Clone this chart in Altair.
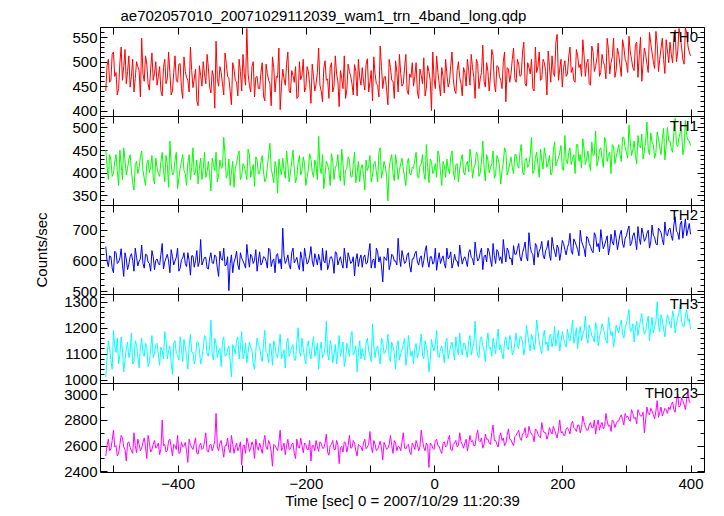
import altair as alt
import pandas as pd

# samples at t = -512 + 4k
T0_A = -512
# samples at t = -510 + 4k
T0_B = -510
DT = 4

th0_a = [
    440, 505, 462, 520, 478, 445, 530, 490, 455, 512, 470, 438, 500, 482, 548, 460, 495, 442, 518, 476,
    452, 490, 430, 505, 465, 478, 440, 512, 458, 496, 425, 480, 462, 530, 447, 485, 410, 472, 500, 455,
    488, 436, 470, 542, 450, 478, 432, 495, 466, 412, 485, 458, 505, 440, 476, 568, 452, 490, 428, 470,
    445, 498, 420, 476, 455, 510, 438, 468, 402, 485, 452, 520, 436, 472, 490, 428, 463, 505, 447, 480,
    415, 470, 455, 528, 440, 486, 462, 425, 498, 450, 475, 408, 466, 512, 443, 480, 455, 494, 430, 468,
    488, 442, 506, 458, 420, 475, 452, 532, 445, 470, 412, 488, 460, 502, 438, 476, 455, 515, 433, 468,
    450, 498, 425, 472, 508, 446, 480, 400, 466, 512, 455, 488, 436, 475, 458, 520, 442, 482, 468, 430,
    478, 505, 452, 488, 425, 496, 465, 534, 448, 480, 470, 512, 438, 490, 462, 500, 418, 485, 475, 528,
    458, 495, 472, 540, 450, 488, 505, 440, 478, 520, 465, 498, 432, 490, 512, 470, 556, 485, 448, 502,
    475, 530, 488, 458, 512, 495, 545, 470, 505, 452, 520, 490, 538, 478, 500, 465, 525, 498, 548, 482,
    515, 470, 530, 498, 552, 505, 482, 540, 512, 460, 528, 495, 560, 518, 486, 535, 505, 548, 476, 522,
    540, 498, 565, 520, 552, 505, 570, 532, 512,
]
th0_b = [
    492, 458, 515, 470, 432, 498, 462, 525, 480, 448, 505, 466, 490, 428, 475, 512, 455, 485, 462, 500,
    470, 440, 488, 455, 520, 432, 478, 462, 495, 445, 510, 468, 438, 482, 465, 420, 492, 450, 475, 515,
    448, 482, 405, 465, 490, 455, 518, 470, 440, 498, 462, 430, 480, 515, 452, 475, 438, 500, 468, 445,
    478, 430, 495, 462, 410, 488, 470, 528, 450, 465, 495, 440, 482, 458, 425, 500, 472, 438, 490, 455,
    495, 440, 478, 452, 418, 502, 465, 488, 438, 512, 460, 482, 445, 425, 495, 470, 432, 480, 505, 452,
    460, 495, 438, 482, 510, 455, 428, 490, 468, 442, 505, 462, 425, 478, 515, 450, 488, 440, 475, 498,
    470, 438, 485, 455, 430, 492, 462, 520, 445, 478, 430, 470, 505, 448, 492, 465, 435, 500, 455, 488,
    450, 482, 515, 468, 505, 445, 478, 460, 498, 440, 525, 455, 492, 470, 445, 520, 488, 458, 505, 465,
    505, 470, 520, 455, 498, 475, 445, 530, 490, 462, 505, 480, 522, 458, 478, 540, 462, 505, 488, 470,
    510, 478, 462, 525, 488, 470, 512, 498, 455, 532, 480, 508, 470, 515, 492, 548, 475, 510, 468, 528,
    492, 545, 505, 478, 520, 488, 535, 468, 550, 495, 515, 478, 538, 500, 562, 480, 528, 505, 545, 498,
    515, 548, 500, 568, 530, 495, 558, 520,
]

th1_a = [
    450, 385, 428, 398, 440, 372, 418, 455, 395, 430, 405, 362, 425, 410, 448, 388, 420, 400, 438, 375,
    412, 392, 445, 380, 418, 470, 395, 428, 365, 410, 440, 398, 422, 385, 455, 402, 375, 432, 408, 390,
    425, 360, 418, 445, 395, 410, 478, 388, 430, 402, 368, 420, 448, 392, 415, 385, 440, 405, 370, 428,
    398, 438, 380, 412, 465, 395, 425, 355, 410, 432, 388, 418, 400, 450, 378, 422, 395, 435, 372, 408,
    430, 390, 415, 480, 398, 365, 425, 405, 442, 385, 418, 395, 452, 372, 410, 428, 390, 445, 400, 380,
    418, 362, 405, 438, 395, 425, 380, 455, 402, 415, 338, 428, 398, 440, 385, 420, 408, 372, 432, 395,
    410, 445, 388, 420, 400, 462, 378, 425, 405, 390, 438, 372, 415, 430, 398, 448, 385, 420, 408, 440,
    395, 425, 452, 388, 418, 440, 400, 470, 382, 428, 412, 448, 395, 430, 375, 422, 445, 405, 435, 398,
    440, 410, 462, 395, 432, 418, 478, 405, 445, 390, 428, 455, 412, 438, 400, 468, 425, 445, 408, 482,
    420, 455, 432, 398, 462, 440, 475, 418, 448, 405, 438, 492, 428, 455, 412, 468, 440, 398, 458, 435,
    462, 425, 478, 445, 505, 438, 470, 420, 458, 485, 448, 512, 440, 468, 432, 490, 455, 475, 428, 500,
    470, 445, 520, 458, 488, 440, 515, 472, 460,
]
th1_b = [
    415, 440, 392, 425, 405, 450, 385, 428, 410, 440, 378, 418, 398, 435, 405, 372, 428, 412, 390, 432,
    398, 425, 405, 438, 368, 420, 400, 445, 388, 425, 405, 372, 440, 412, 395, 428, 410, 385, 445, 402,
    395, 432, 405, 380, 428, 412, 440, 398, 372, 425, 410, 438, 385, 420, 402, 452, 390, 418, 435, 398,
    425, 402, 388, 440, 410, 378, 412, 430, 395, 405, 448, 380, 425, 410, 392, 438, 405, 420, 390, 442,
    402, 428, 385, 412, 440, 395, 418, 372, 425, 410, 440, 382, 420, 405, 435, 392, 418, 378, 425, 410,
    395, 428, 415, 380, 420, 402, 445, 388, 425, 392, 410, 440, 382, 418, 405, 432, 390, 420, 398, 412,
    428, 392, 415, 440, 385, 412, 430, 398, 420, 448, 402, 425, 390, 410, 435, 405, 418, 380, 428, 402,
    418, 402, 432, 410, 445, 392, 425, 412, 440, 400, 420, 388, 438, 415, 405, 455, 395, 420, 412, 440,
    418, 445, 402, 428, 412, 440, 398, 432, 418, 452, 408, 438, 422, 395, 448, 415, 432, 460, 405, 428,
    445, 418, 440, 462, 425, 410, 452, 432, 420, 468, 440, 415, 450, 432, 478, 425, 445, 462, 420, 448,
    440, 478, 455, 432, 468, 450, 438, 482, 455, 430, 470, 452, 488, 462, 445, 475, 440, 498, 458, 470,
    452, 488, 462, 478, 495, 455, 482, 470,
]

th2_a = [
    645, 580, 612, 560, 625, 595, 638, 548, 605, 588, 622, 565, 610, 598, 650, 575, 618, 590, 632, 570,
    605, 585, 655, 595, 620, 560, 612, 598, 640, 575, 608, 590, 625, 552, 615, 600, 580, 668, 598, 610,
    572, 625, 590, 612, 548, 605, 640, 585, 502, 618, 595, 630, 570, 608, 588, 652, 578, 612, 600, 565,
    628, 592, 610, 575, 635, 598, 560, 622, 605, 705, 590, 618, 572, 640, 600, 585, 628, 565, 612, 595,
    645, 580, 605, 620, 568, 598, 632, 585, 612, 558, 625, 600, 590, 640, 575, 608, 595, 550, 622, 605,
    578, 618, 592, 655, 600, 575, 628, 612, 530, 605, 640, 588, 615, 598, 672, 580, 610, 595, 625, 562,
    605, 630, 585, 615, 600, 648, 578, 612, 595, 568, 625, 605, 590, 640, 610, 575, 620, 598, 650, 588,
    612, 580, 635, 605, 660, 598, 625, 570, 618, 640, 602, 655, 590, 628, 612, 668, 595, 632, 608, 648,
    620, 655, 598, 640, 612, 690, 625, 585, 648, 630, 662, 605, 640, 618, 675, 628, 650, 600, 665, 635,
    642, 688, 620, 660, 635, 698, 650, 612, 672, 645, 625, 680, 655, 700, 638, 665, 618, 685, 650, 672,
    660, 698, 642, 680, 712, 655, 690, 635, 672, 705, 662, 688, 640, 715, 675, 650, 698, 668, 725, 680,
    705, 665, 742, 690, 718, 672, 735, 700, 685,
]
th2_b = [
    598, 615, 575, 630, 590, 608, 585, 625, 570, 612, 600, 640, 582, 605, 590, 620, 595, 565, 612, 600,
    590, 620, 572, 608, 598, 635, 585, 610, 565, 602, 625, 580, 600, 615, 578, 632, 595, 585, 610, 575,
    608, 592, 618, 575, 630, 600, 582, 612, 590, 560, 608, 585, 625, 598, 575, 610, 620, 590, 635, 598,
    585, 612, 598, 640, 580, 605, 618, 590, 572, 615, 600, 585, 625, 592, 610, 570, 605, 640, 588, 615,
    598, 622, 585, 600, 640, 592, 570, 610, 598, 628, 585, 612, 575, 605, 625, 590, 612, 602, 580, 618,
    610, 588, 625, 575, 605, 640, 595, 582, 612, 600, 570, 620, 598, 585, 610, 632, 590, 618, 582, 605,
    622, 595, 608, 578, 630, 598, 612, 588, 640, 602, 590, 615, 575, 605, 628, 592, 600, 580, 615, 605,
    598, 625, 610, 585, 622, 605, 640, 612, 595, 628, 580, 615, 635, 600, 590, 625, 640, 605, 585, 620,
    638, 612, 625, 660, 598, 645, 620, 655, 610, 640, 618, 632, 665, 600, 645, 612, 640, 625, 655, 618,
    655, 630, 670, 648, 615, 662, 638, 678, 655, 632, 690, 645, 628, 665, 650, 680, 640, 660, 698, 635,
    685, 655, 672, 698, 648, 680, 665, 710, 652, 688, 670, 698, 660, 682, 655, 705, 690, 650, 685, 700,
    680, 715, 695, 668, 728, 702, 680, 720,
]

th3_a = [
    1010, 1150, 1075, 1190, 1105, 1060, 1165, 1030, 1120, 1085, 1180, 1070, 1135, 1045, 1160, 1090, 1125, 1065, 1170, 1100,
    1140, 1055, 1110, 1185, 1080, 1130, 1020, 1150, 1095, 1165, 1070, 1125, 1040, 1175, 1105, 1085, 1145, 1060, 1120, 1160,
    1090, 1230, 1075, 1140, 1110, 1050, 1165, 1095, 1130, 1010, 1120, 1150, 1080, 1185, 1100, 1065, 1145, 1115, 1040, 1160,
    1125, 1070, 1190, 1100, 1140, 1055, 1130, 1085, 1175, 1095, 1045, 1160, 1110, 1135, 1075, 1200, 1090, 1120, 1060, 1150,
    1080, 1165, 1110, 1040, 1145, 1095, 1225, 1075, 1130, 1100, 1060, 1170, 1115, 1050, 1140, 1090, 1185, 1105, 1030, 1150,
    1120, 1075, 1160, 1095, 1215, 1085, 1130, 1060, 1145, 1105, 1175, 1070, 1125, 1040, 1150, 1100, 1135, 1055, 1170, 1090,
    1060, 1140, 1100, 1175, 1080, 1125, 1030, 1155, 1110, 1190, 1085, 1130, 1065, 1160, 1105, 1145, 1075, 1120, 1180, 1095,
    1140, 1085, 1170, 1120, 1225, 1095, 1155, 1130, 1070, 1180, 1125, 1160, 1100, 1195, 1135, 1080, 1165, 1115, 1150, 1105,
    1180, 1120, 1165, 1095, 1210, 1140, 1175, 1115, 1230, 1150, 1100, 1190, 1145, 1170, 1125, 1205, 1160, 1110, 1185, 1140,
    1195, 1150, 1230, 1165, 1120, 1205, 1175, 1245, 1140, 1190, 1160, 1220, 1130, 1185, 1200, 1150, 1240, 1170, 1125, 1210,
    1180, 1230, 1160, 1215, 1270, 1190, 1145, 1225, 1200, 1255, 1175, 1220, 1150, 1240, 1205, 1300, 1185, 1230, 1165, 1250,
    1210, 1265, 1180, 1240, 1290, 1205, 1250, 1225, 1195,
]
th3_b = [
    1085, 1120, 1040, 1130, 1160, 1095, 1115, 1075, 1145, 1105, 1060, 1150, 1090, 1125, 1100, 1140, 1050, 1120, 1085, 1135,
    1095, 1125, 1080, 1150, 1110, 1065, 1140, 1100, 1075, 1120, 1155, 1090, 1130, 1105, 1060, 1145, 1115, 1085, 1170, 1100,
    1130, 1100, 1160, 1085, 1120, 1145, 1090, 1115, 1070, 1135, 1100, 1165, 1120, 1080, 1140, 1105, 1125, 1060, 1110, 1135,
    1090, 1140, 1105, 1065, 1120, 1150, 1095, 1130, 1080, 1115, 1140, 1090, 1125, 1075, 1145, 1110, 1160, 1085, 1130, 1100,
    1130, 1090, 1140, 1115, 1085, 1125, 1100, 1150, 1065, 1135, 1110, 1090, 1145, 1080, 1120, 1165, 1095, 1130, 1105, 1080,
    1095, 1140, 1110, 1070, 1130, 1120, 1090, 1160, 1100, 1125, 1085, 1145, 1105, 1130, 1075, 1115, 1160, 1090, 1125, 1110,
    1120, 1085, 1135, 1095, 1150, 1105, 1075, 1125, 1140, 1090, 1120, 1100, 1145, 1080, 1130, 1110, 1165, 1095, 1120, 1140,
    1110, 1150, 1095, 1140, 1125, 1085, 1165, 1110, 1145, 1120, 1090, 1135, 1155, 1115, 1100, 1150, 1125, 1170, 1095, 1140,
    1130, 1165, 1145, 1125, 1175, 1110, 1155, 1140, 1185, 1120, 1165, 1135, 1110, 1175, 1150, 1130, 1190, 1145, 1160, 1125,
    1160, 1185, 1140, 1200, 1175, 1150, 1190, 1160, 1210, 1170, 1145, 1195, 1165, 1215, 1175, 1140, 1200, 1185, 1160, 1195,
    1210, 1175, 1200, 1240, 1185, 1215, 1195, 1170, 1230, 1205, 1185, 1245, 1200, 1180, 1225, 1210, 1250, 1195, 1215, 1235,
    1200, 1240, 1215, 1260, 1225, 1205, 1270, 1235,
]

th0123_a = [
    2520, 2650, 2575, 2720, 2600, 2540, 2680, 2590, 2480, 2630, 2560, 2700, 2545, 2610, 2580, 2660, 2500, 2625, 2570, 2640,
    2595, 2530, 2800, 2610, 2560, 2650, 2520, 2600, 2680, 2545, 2590, 2625, 2470, 2610, 2570, 2660, 2535, 2620, 2580, 2700,
    2550, 2610, 2590, 2850, 2560, 2640, 2510, 2600, 2570, 2680, 2540, 2620, 2585, 2450, 2605, 2660, 2555, 2630, 2500, 2590,
    2620, 2540, 2680, 2570, 2610, 2440, 2600, 2560, 2720, 2585, 2530, 2650, 2575, 2620, 2500, 2590, 2660, 2545, 2610, 2570,
    2480, 2600, 2640, 2555, 2620, 2580, 2690, 2525, 2610, 2570, 2640, 2460, 2595, 2630, 2550, 2680, 2585, 2620, 2520, 2600,
    2560, 2650, 2590, 2710, 2545, 2610, 2570, 2635, 2490, 2600, 2580, 2680, 2540, 2620, 2595, 2560, 2700, 2575, 2610, 2530,
    2600, 2640, 2560, 2720, 2585, 2620, 2430, 2610, 2570, 2650, 2595, 2540, 2630, 2600, 2680, 2560, 2620, 2590, 2700, 2610,
    2620, 2560, 2680, 2640, 2600, 2720, 2630, 2580, 2690, 2650, 2610, 2760, 2640, 2590, 2700, 2660, 2620, 2730, 2645, 2600,
    2680, 2720, 2640, 2700, 2660, 2750, 2690, 2630, 2720, 2670, 2780, 2700, 2650, 2740, 2690, 2720, 2660, 2800, 2710, 2680,
    2740, 2690, 2790, 2730, 2760, 2700, 2830, 2750, 2720, 2780, 2740, 2690, 2800, 2760, 2730, 2850, 2750, 2710, 2790, 2770,
    2790, 2840, 2760, 2820, 2800, 2880, 2810, 2770, 2850, 2830, 2700, 2900, 2840, 2870, 2810, 2950, 2860, 2830, 2890, 2850,
    2880, 2940, 2860, 3000, 2910, 2950, 2880, 3020, 2930,
]
th0123_b = [
    2600, 2560, 2640, 2590, 2520, 2610, 2660, 2570, 2620, 2585, 2540, 2600, 2650, 2560, 2625, 2590, 2680, 2550, 2610, 2580,
    2620, 2575, 2600, 2550, 2640, 2590, 2610, 2570, 2540, 2625, 2600, 2560, 2650, 2585, 2615, 2540, 2600, 2570, 2630, 2560,
    2605, 2560, 2640, 2590, 2620, 2575, 2600, 2660, 2545, 2610, 2590, 2560, 2630, 2600, 2540, 2620, 2580, 2600, 2650, 2565,
    2580, 2625, 2590, 2640, 2550, 2610, 2580, 2630, 2560, 2620, 2600, 2570, 2610, 2540, 2650, 2580, 2600, 2620, 2570, 2640,
    2600, 2560, 2590, 2630, 2580, 2620, 2550, 2600, 2640, 2570, 2605, 2585, 2550, 2620, 2600, 2580, 2640, 2560, 2610, 2590,
    2620, 2575, 2610, 2590, 2640, 2560, 2600, 2580, 2625, 2570, 2610, 2600, 2640, 2560, 2590, 2630, 2580, 2600, 2550, 2620,
    2570, 2610, 2590, 2640, 2560, 2600, 2620, 2580, 2640, 2600, 2560, 2620, 2590, 2650, 2570, 2610, 2640, 2600, 2630, 2580,
    2650, 2610, 2630, 2600, 2680, 2640, 2660, 2610, 2650, 2620, 2700, 2640, 2610, 2670, 2640, 2600, 2680, 2650, 2620, 2670,
    2700, 2660, 2690, 2740, 2670, 2710, 2680, 2730, 2690, 2660, 2720, 2700, 2680, 2710, 2750, 2690, 2720, 2700, 2680, 2730,
    2720, 2770, 2740, 2710, 2760, 2740, 2780, 2720, 2760, 2740, 2800, 2760, 2720, 2780, 2750, 2790, 2760, 2800, 2740, 2790,
    2820, 2800, 2850, 2830, 2790, 2850, 2820, 2880, 2830, 2860, 2800, 2850, 2890, 2840, 2870, 2820, 2900, 2860, 2880, 2900,
    2920, 2880, 2950, 2900, 2970, 2920, 2960, 2940,
]

labels = ["TH0", "TH1", "TH2", "TH3", "TH0123"]
colors = ["#ff0000", "#00ff00", "#0000ff", "#00ffff", "#ff00ff"]
domains = [[389, 571], [329, 525], [491, 780], [987, 1330], [2395, 3087]]
majors = [[400, 450, 500, 550], [350, 400, 450, 500], [500, 600, 700],
          [1000, 1100, 1200, 1300], [2400, 2600, 2800, 3000]]
minor_steps = [10, 10, 20, 20, 100]
x_ticks = [-500, -400, -300, -200, -100, 0, 100, 200, 300, 400]
x_domain = [-521, 421]
title_text = "ae702057010_20071029112039_wam1_trn_4band_long.qdp"
x_title = "Time [sec] 0 = 2007/10/29 11:20:39"
y_title = "Counts/sec"

W, H = 604, 89
FONT = "Liberation Sans"
MAJ, MIN = 7, 4

series = [(th0_a, th0_b), (th1_a, th1_b), (th2_a, th2_b), (th3_a, th3_b), (th0123_a, th0123_b)]


def panel(i):
    va, vb = series[i]
    times = [T0_A + DT * k for k in range(len(va))] + [T0_B + DT * k for k in range(len(vb))]
    df = pd.DataFrame({"t": times, "v": va + vb}).sort_values("t")
    dom = domains[i]
    xs = alt.Scale(domain=x_domain, nice=False, zero=False)
    ys = alt.Scale(domain=dom, nice=False, zero=False)
    bottom = i == len(series) - 1
    mid = i == 2
    lo = dom[0] - dom[0] % minor_steps[i] + minor_steps[i]
    minors = list(range(lo, dom[1] + 1, minor_steps[i]))

    base = alt.Chart(df)
    if bottom:
        x_bottom = alt.Axis(orient="bottom", values=x_ticks, offset=-MAJ, tickSize=MAJ,
                            domain=False, grid=False, labels=True,
                            labelExpr="datum.value % 200 == 0 ? format(datum.value, 'd') : ''",
                            labelPadding=4, title=x_title, titlePadding=2)
    else:
        x_bottom = alt.Axis(orient="bottom", values=x_ticks, offset=-MAJ, tickSize=MAJ,
                            domain=False, grid=False, labels=False, title=None)
    y_left = alt.Axis(orient="left", values=majors[i], offset=-MAJ, tickSize=MAJ,
                      domain=False, grid=False, format="d", labelPadding=3,
                      title=y_title if mid else None, titlePadding=22)
    line = base.mark_line(color=colors[i], strokeWidth=1, clip=True).encode(
        x=alt.X("t:Q", scale=xs, axis=x_bottom),
        y=alt.Y("v:Q", scale=ys, axis=y_left),
    )
    top_right = base.mark_line(strokeOpacity=0).encode(
        x=alt.X("t:Q", scale=xs, axis=alt.Axis(orient="top", values=x_ticks, offset=-MAJ,
                                               tickSize=MAJ, domain=False, grid=False,
                                               labels=False, title=None)),
        y=alt.Y("v:Q", scale=ys, axis=alt.Axis(orient="right", values=majors[i], offset=-MAJ,
                                               tickSize=MAJ, domain=False, grid=False,
                                               labels=False, title=None)),
    )
    minor_left = base.mark_line(strokeOpacity=0).encode(
        x=alt.X("t:Q", scale=xs, axis=None),
        y=alt.Y("v:Q", scale=ys, axis=alt.Axis(orient="left", values=minors, offset=-MIN,
                                               tickSize=MIN, domain=False, grid=False,
                                               labels=False, title=None)),
    )
    minor_right = base.mark_line(strokeOpacity=0).encode(
        x=alt.X("t:Q", scale=xs, axis=None),
        y=alt.Y("v:Q", scale=ys, axis=alt.Axis(orient="right", values=minors, offset=-MIN,
                                               tickSize=MIN, domain=False, grid=False,
                                               labels=False, title=None)),
    )
    lab = alt.Chart(pd.DataFrame({"name": [labels[i]]})).mark_text(
        align="right", baseline="top", font=FONT, fontSize=15, color="black"
    ).encode(x=alt.value(W - 6), y=alt.value(3), text="name:N")

    return alt.layer(line, top_right, minor_left, minor_right, lab).resolve_axis(
        x="independent", y="independent"
    ).properties(width=W, height=H)


chart = alt.vconcat(*[panel(i) for i in range(5)], spacing=0, bounds="flush").properties(
    title=alt.TitleParams(title_text, anchor="start", font=FONT, fontSize=15,
                          fontWeight="normal", color="black", offset=2, dx=86),
    padding={"left": 26, "top": 1, "right": 5, "bottom": 0},
).configure_view(stroke="black", strokeWidth=1).configure_axis(
    labelFont=FONT, labelFontSize=15, labelColor="black",
    titleFont=FONT, titleFontSize=15, titleColor="black", titleFontWeight="normal",
    tickColor="black", tickWidth=1,
)

chart.save("out.html", embed_options={"renderer": "svg", "actions": False})
